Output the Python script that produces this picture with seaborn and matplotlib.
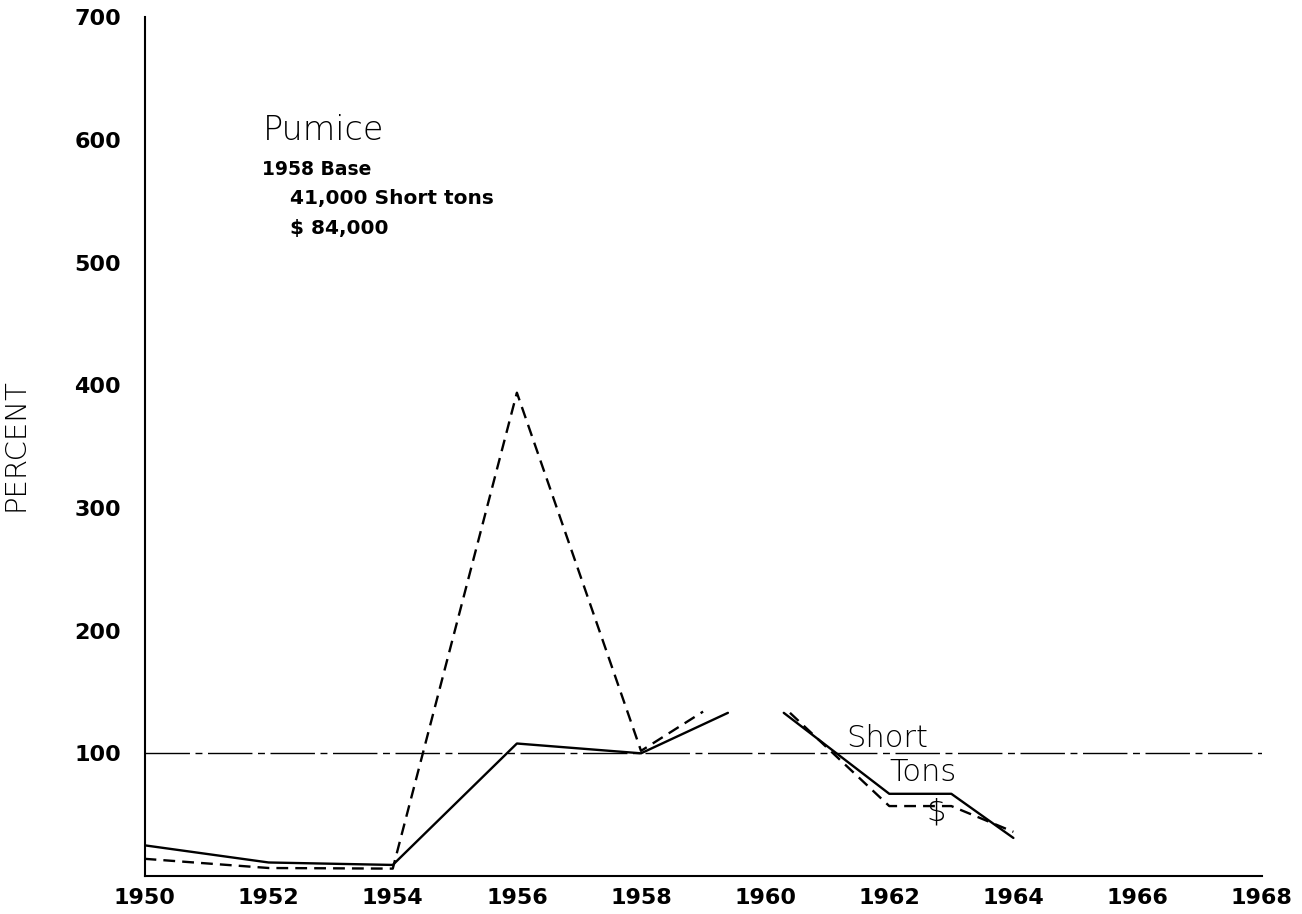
import numpy as np
import pandas as pd
import matplotlib
matplotlib.use('Agg')
import matplotlib.pyplot as plt
import seaborn as sns

# Pumice production index, 1958 = 100
# the original drawing has a gap near 1959-1960, so each series is in two pieces
tons_years = [1950, 1952, 1954, 1956, 1958, 1959.4, 1960.3, 1962, 1963, 1964]
tons_pct = [25, 11, 9, 108, 100, 133, 133, 67, 67, 31]
tons_seg = [0, 0, 0, 0, 0, 0, 1, 1, 1, 1]

dollar_years = [1950, 1952, 1954, 1956, 1958, 1959.0, 1960.4, 1962, 1963, 1964]
dollar_pct = [14, 6.5, 6, 394, 102, 134, 133, 57, 57, 36]
dollar_seg = [0, 0, 0, 0, 0, 0, 1, 1, 1, 1]

base_years = [1950, 1968]
base_pct = [100, 100]

xticks = list(range(1950, 1969, 2))
yticks = list(range(100, 701, 100))

sns.set_style('white')
plt.rcParams['font.family'] = ['DejaVu Sans']
plt.rcParams['text.color'] = 'black'
plt.rcParams['axes.labelcolor'] = 'black'

tons = pd.DataFrame({'year': tons_years, 'pct': tons_pct, 'seg': tons_seg})
dollars = pd.DataFrame({'year': dollar_years, 'pct': dollar_pct, 'seg': dollar_seg})
base = pd.DataFrame({'year': base_years, 'pct': base_pct})

fig = plt.figure(figsize=(13.02, 9.14), dpi=100)
ax = fig.add_axes([0.111, 0.0416, 0.858, 0.9394])

sns.lineplot(data=base, x='year', y='pct', ax=ax, color='black', lw=1.0,
             linestyle=(0, (32, 4, 5, 4)))
sns.lineplot(data=tons, x='year', y='pct', units='seg', estimator=None, ax=ax,
             color='black', lw=1.7)
sns.lineplot(data=dollars, x='year', y='pct', units='seg', estimator=None, ax=ax,
             color='black', lw=1.7, linestyle=(0, (5, 3)))

ax.set_xlim(1950, 1968)
ax.set_ylim(0, 700)
ax.set_xticks(xticks)
ax.set_yticks(yticks)
ax.set_xticklabels([str(t) for t in xticks], fontsize=16, fontweight='bold')
ax.set_yticklabels([str(t) for t in yticks], fontsize=16, fontweight='bold')
ax.tick_params(direction='in', length=9, width=1.4, colors='black')
ax.tick_params(axis='y', pad=17)
ax.tick_params(axis='x', pad=9)
ax.set_xlabel('')
ax.set_ylabel('PERCENT', fontsize=21, fontweight='light')
ax.yaxis.set_label_coords(-0.103, 0.502)

for side in ['top', 'right']:
    ax.spines[side].set_visible(False)
for side in ['left', 'bottom']:
    ax.spines[side].set_linewidth(1.5)
    ax.spines[side].set_color('black')

# title block
ax.text(1951.9, 608, 'Pumice', fontsize=24, fontweight='light', va='center')
ax.text(1951.9, 576, '1958 Base', fontsize=13.5, fontweight='bold', va='center')
ax.text(1952.35, 552, '41,000 Short tons', fontsize=14.5, fontweight='bold', va='center')
ax.text(1952.35, 528, '$ 84,000', fontsize=14.5, fontweight='bold', va='center')

# series labels
ax.text(1961.3, 112, 'Short', fontsize=22, fontweight='light', va='center')
ax.text(1962.0, 84, 'Tons', fontsize=22, fontweight='light', va='center')
ax.text(1962.6, 52, '$', fontsize=22, fontweight='light', va='center')

fig.savefig('out.png', dpi=100)
